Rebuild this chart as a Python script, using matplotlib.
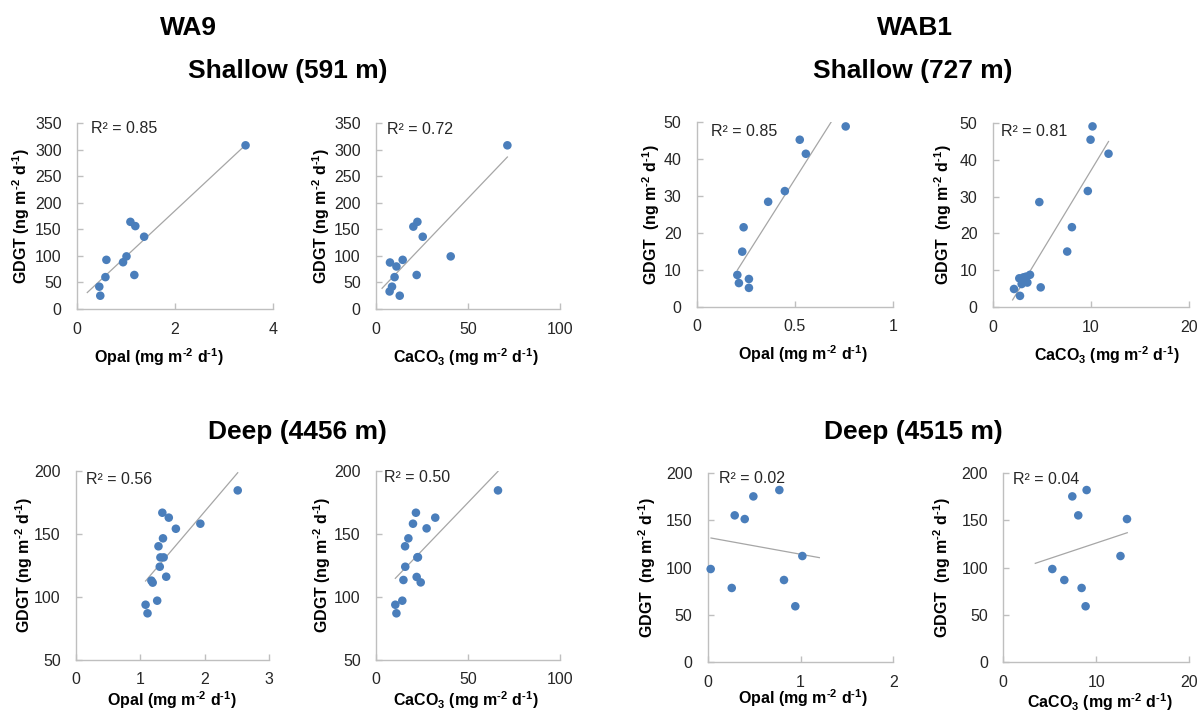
import numpy as np
import matplotlib
matplotlib.use('Agg')
import matplotlib.pyplot as plt

plt.rcParams['font.family'] = ['Liberation Sans', 'DejaVu Sans']
plt.rcParams['mathtext.fontset'] = 'custom'
# mathtext is only used inside the bold axis labels
plt.rcParams['mathtext.rm'] = 'Liberation Sans:bold'
plt.rcParams['mathtext.it'] = 'Liberation Sans:bold'
plt.rcParams['mathtext.bf'] = 'Liberation Sans:bold'

# WA9 shallow (591 m)
wa9_sh_opal = [3.44, 1.09, 1.19, 1.37, 1.01, 0.94, 0.60, 0.58, 1.17, 0.455, 0.475]
wa9_sh_opal_gdgt = [308, 164, 156, 136, 99, 88, 92.5, 60, 64, 42, 25]
wa9_sh_caco3 = [71.4, 22.5, 20.3, 25.4, 40.6, 14.5, 11.1, 7.6, 10.1, 22.1, 8.7, 7.4, 12.9]
wa9_sh_caco3_gdgt = [308, 164, 155, 136, 99, 92.5, 80, 87.5, 60, 64, 42, 33, 25]

# WAB1 shallow (727 m)
wab1_sh_opal = [0.759, 0.525, 0.556, 0.449, 0.364, 0.239, 0.232, 0.207, 0.215, 0.266, 0.266]
wab1_sh_opal_gdgt = [48.8, 45.2, 41.4, 31.3, 28.4, 21.5, 14.9, 8.6, 6.4, 7.5, 5.1]
wab1_sh_caco3 = [10.17, 9.97, 11.8, 9.69, 4.75, 8.07, 7.59, 3.80, 3.39, 3.12, 2.71,
                 3.53, 2.95, 4.89, 2.17, 2.78]
wab1_sh_caco3_gdgt = [49.0, 45.4, 41.6, 31.5, 28.5, 21.7, 15.1, 8.8, 8.3, 8.1, 7.85,
                      6.7, 6.3, 5.4, 4.96, 3.1]

# WA9 deep (4456 m)
wa9_dp_opal = [2.51, 1.93, 1.55, 1.44, 1.34, 1.35, 1.28, 1.31, 1.36, 1.30, 1.40,
               1.17, 1.19, 1.26, 1.08, 1.11]
wa9_dp_opal_gdgt = [184.4, 158.0, 154.0, 162.8, 166.7, 146.4, 140.1, 131.3, 131.3,
                    123.9, 116.0, 112.9, 111.3, 97, 93.8, 87]
wa9_dp_caco3 = [66.3, 32.2, 21.7, 27.5, 20.1, 17.6, 15.8, 22.5, 22.8, 15.9, 22.1,
                24.3, 14.9, 14.3, 10.5, 11.1]
wa9_dp_caco3_gdgt = [184.4, 162.8, 166.7, 154.3, 158.0, 146.4, 140.1, 131.3, 131.5,
                     123.9, 115.8, 111.5, 113.4, 97, 93.8, 87]

# WAB1 deep (4515 m)
wab1_dp_opal = [0.032, 0.259, 0.291, 0.399, 0.492, 0.772, 1.020, 0.822, 0.944]
wab1_dp_opal_gdgt = [98.4, 78.4, 155.0, 151.1, 175.0, 181.7, 112.1, 86.8, 59.1]
wab1_dp_caco3 = [5.27, 6.56, 7.42, 8.06, 8.42, 8.96, 8.85, 12.6, 13.3]
wab1_dp_caco3_gdgt = [98.4, 86.8, 175.0, 155.0, 78.4, 181.7, 59.1, 112.1, 151.1]

# trendline end points
trend_x = {
    'p1': [0.21, 3.42], 'p2': [3.3, 71.4], 'p3': [0.207, 0.759], 'p4': [2.03, 11.8],
    'p5': [1.08, 2.51], 'p6': [10.5, 66.3], 'p7': [0.036, 1.203], 'p8': [3.44, 13.33],
}
trend_y = {
    'p1': [31, 307], 'p2': [39, 286], 'p3': [9.9, 56.2], 'p4': [2.0, 44.9],
    'p5': [112.6, 198.4], 'p6': [114.7, 199.5], 'p7': [131.1, 110.4], 'p8': [104.4, 136.7],
}
r2_labels = {'p1': '0.85', 'p2': '0.72', 'p3': '0.85', 'p4': '0.81',
             'p5': '0.56', 'p6': '0.50', 'p7': '0.02', 'p8': '0.04'}

units = r'(mg m$^{\text{-2}}$ d$^{\text{-1}}$)'
opal_lab = 'Opal ' + units
caco3_lab = r'CaCO$_{\text{3}}$ ' + units
gdgt_lab = r'GDGT (ng m$^{\text{-2}}$ d$^{\text{-1}}$)'
gdgt_lab2 = r'GDGT  (ng m$^{\text{-2}}$ d$^{\text{-1}}$)'

W, H = 1201, 711
fig = plt.figure(figsize=(W / 100, H / 100), dpi=100)

blue = '#4a7ebb'
axis_col = '#bfbfbf'
text_col = '#262626'

# (key, x, y, xlim, xticks, ylim, yticks, xlabel, ylabel, box px [left, top, right, bottom], xlab pos, ylab x, r2 pos)
panels = [
    ('p1', wa9_sh_opal, wa9_sh_opal_gdgt, (0, 4), [0, 2, 4], (0, 350), range(0, 351, 50),
     opal_lab, gdgt_lab, (77, 123, 273, 309), (0.42, -0.26), -0.285, (0.07, 0.973)),
    ('p2', wa9_sh_caco3, wa9_sh_caco3_gdgt, (0, 100), [0, 50, 100], (0, 350), range(0, 351, 50),
     caco3_lab, gdgt_lab, (376, 123, 560, 309), (0.49, -0.26), -0.30, (0.061, 0.966)),
    ('p3', wab1_sh_opal, wab1_sh_opal_gdgt, (0, 1), [0, 0.5, 1], (0, 50), range(0, 51, 10),
     opal_lab, gdgt_lab2, (696.7, 122, 893, 306.7), (0.543, -0.257), -0.23, (0.071, 0.948)),
    ('p4', wab1_sh_caco3, wab1_sh_caco3_gdgt, (0, 20), [0, 10, 20], (0, 50), range(0, 51, 10),
     caco3_lab, gdgt_lab2, (992.7, 122.7, 1189, 307.3), (0.58, -0.258), -0.253, (0.041, 0.951)),
    ('p5', wa9_dp_opal, wa9_dp_opal_gdgt, (0, 3), [0, 1, 2, 3], (50, 200), range(50, 201, 50),
     opal_lab, gdgt_lab, (76, 470.7, 269.3, 660), (0.498, -0.21), -0.268, (0.052, 0.955)),
    ('p6', wa9_dp_caco3, wa9_dp_caco3_gdgt, (0, 100), [0, 50, 100], (50, 200), range(50, 201, 50),
     caco3_lab, gdgt_lab, (376, 470.7, 560, 660), (0.49, -0.21), -0.29, (0.043, 0.963)),
    ('p7', wab1_dp_opal, wab1_dp_opal_gdgt, (0, 2), [0, 1, 2], (0, 200), range(0, 201, 50),
     opal_lab, gdgt_lab2, (707.7, 472.7, 893.3, 662.3), (0.515, -0.19), -0.325, (0.059, 0.97)),
    ('p8', wab1_dp_caco3, wab1_dp_caco3_gdgt, (0, 20), [0, 10, 20], (0, 200), range(0, 201, 50),
     caco3_lab, gdgt_lab2, (1003.3, 472.7, 1189.3, 662.3), (0.52, -0.208), -0.33, (0.05, 0.965)),
]

for key, xs, ys, xlim, xticks, ylim, yticks, xlab, ylab, box, xlp, ylx, r2p in panels:
    l, t, r, b = box
    ax = fig.add_axes([l / W, 1 - b / H, (r - l) / W, (b - t) / H])
    ax.plot(trend_x[key], trend_y[key], color='#a6a6a6', lw=0.9, zorder=2)
    ax.scatter(xs, ys, s=38, color=blue, edgecolors='none', zorder=3, clip_on=False)
    ax.set_xlim(*xlim)
    ax.set_ylim(*ylim)
    ax.set_xticks(xticks)
    ax.set_yticks(list(yticks))
    ax.set_xticklabels([f'{v:g}' for v in xticks])
    for s in ['top', 'right']:
        ax.spines[s].set_visible(False)
    for s in ['left', 'bottom']:
        ax.spines[s].set_color(axis_col)
        ax.spines[s].set_linewidth(1.0)
    ax.tick_params(axis='both', direction='in', length=4, width=1.0, color=axis_col,
                   labelsize=11.5, labelcolor=text_col)
    ax.tick_params(axis='y', pad=11)
    ax.tick_params(axis='x', pad=9)
    ax.set_xlabel(xlab, fontsize=11.5, fontweight='bold', color='black')
    ax.set_ylabel(ylab, fontsize=11.5, fontweight='bold', color='black')
    ax.xaxis.set_label_coords(*xlp)
    ax.xaxis.label.set_va('center')
    ax.yaxis.set_label_coords(ylx, 0.5)
    ax.yaxis.label.set_va('center')
    ax.text(r2p[0], r2p[1], f'R² = {r2_labels[key]}', transform=ax.transAxes,
            ha='left', va='center', fontsize=11.5, color=text_col)

titles = [('WA9', 188, 28), ('Shallow (591 m)', 288, 71), ('Deep (4456 m)', 297, 432),
          ('WAB1', 915, 28), ('Shallow (727 m)', 913, 71), ('Deep (4515 m)', 913, 432)]
for txt, x, y in titles:
    fig.text(x / W, 1 - y / H, txt, ha='center', va='center', fontsize=19,
             fontweight='bold', color='black')

fig.savefig('out.png', dpi=100, facecolor='white')
